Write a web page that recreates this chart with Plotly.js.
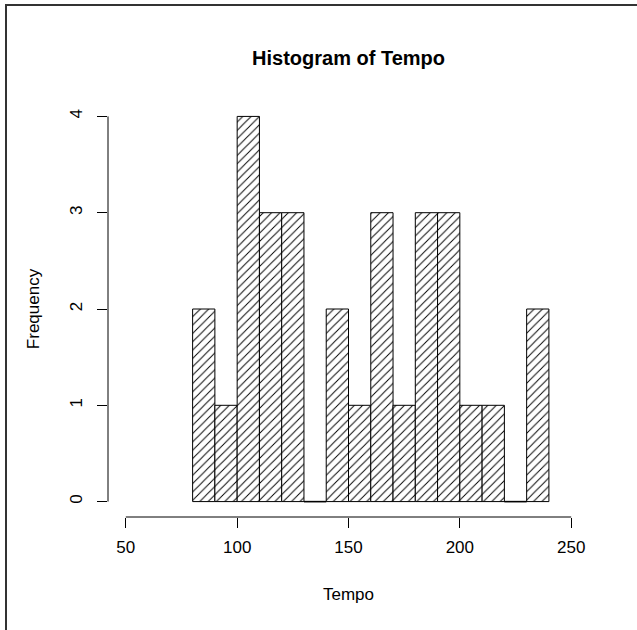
<!DOCTYPE html>
<html>
<head>
<meta charset="utf-8">
<script src="https://cdn.plot.ly/plotly-3.0.1.min.js"></script>
<style>
  html, body { margin: 0; padding: 0; background: #fff; }
  #wrap { position: relative; width: 637px; height: 630px; }
  #chart { width: 637px; height: 630px; }
  #frame { position: absolute; left: 5px; top: 4px; width: 640px; height: 640px;
           border-left: 2px solid #333; border-top: 2px solid #333; pointer-events: none; }
</style>
</head>
<body>
<div id="wrap">
  <div id="chart"></div>
  <div id="frame"></div>
</div>
<script>
// Histogram bin edges and counts
const breaks = [80, 90, 100, 110, 120, 130, 140, 150, 160, 170, 180, 190, 200, 210, 220, 230, 240];
const counts = [2, 1, 4, 3, 3, 0, 2, 1, 3, 1, 3, 3, 1, 1, 0, 2];
const xTicks = [50, 100, 150, 200, 250];
const yTicks = [0, 1, 2, 3, 4];
const titleText = "Histogram of Tempo";
const xLabel = "Tempo";
const yLabel = "Frequency";

const centers = counts.map((c, i) => (breaks[i] + breaks[i + 1]) / 2);
const widths = counts.map((c, i) => breaks[i + 1] - breaks[i]);

// zero-count bins are drawn by R as a flat line at 0
const zx = [], zy = [];
counts.forEach((c, i) => {
  if (c === 0) { zx.push(breaks[i], breaks[i + 1], null); zy.push(0, 0, null); }
});

const font = "Liberation Sans, Arial, sans-serif";

const traces = [
  {
    type: "bar",
    x: centers,
    y: counts,
    width: widths,
    marker: {
      color: "white",
      line: { color: "black", width: 1 },
      pattern: { shape: "/", fgcolor: "black", bgcolor: "white", size: 5.9, solidity: 0.16 }
    },
    hoverinfo: "x+y"
  },
  {
    type: "scatter",
    mode: "lines",
    x: zx,
    y: zy,
    line: { color: "black", width: 1.5 },
    hoverinfo: "skip",
    connectgaps: false
  }
];

const layout = {
  width: 637,
  height: 630,
  paper_bgcolor: "white",
  plot_bgcolor: "white",
  showlegend: false,
  margin: { l: 108, r: 48, t: 101, b: 113, pad: 0 },
  font: { family: font, size: 17, color: "black" },
  title: {
    text: "<b>" + titleText + "</b>",
    font: { family: font, size: 20, color: "black" },
    x: 0.5, xref: "paper", xanchor: "center",
    y: 1 - 58 / 630, yref: "container", yanchor: "middle"
  },
  bargap: 0,
  xaxis: {
    range: [42, 258],
    tickmode: "array",
    tickvals: xTicks,
    ticktext: xTicks.map(String),
    ticks: "outside", ticklen: 10, tickwidth: 1, tickcolor: "black",
    showline: false, showgrid: false, zeroline: false,
    tickfont: { family: font, size: 17, color: "black" },
    ticklabelstandoff: 5,
    title: { text: xLabel, font: { family: font, size: 17, color: "black" }, standoff: 31 },
    fixedrange: true
  },
  yaxis: {
    range: [-0.16, 4.16],
    tickmode: "array",
    tickvals: yTicks,
    ticktext: yTicks.map(String),
    tickangle: -90,
    ticks: "outside", ticklen: 10, tickwidth: 1, tickcolor: "black",
    showline: false, showgrid: false, zeroline: false,
    tickfont: { family: font, size: 17, color: "black" },
    ticklabelstandoff: 8,
    title: { text: yLabel, font: { family: font, size: 17, color: "black" }, standoff: 23 },
    fixedrange: true
  },
  shapes: [
    { type: "line", xref: "x", yref: "paper", x0: xTicks[0], x1: xTicks[xTicks.length - 1], y0: 0, y1: 0,
      line: { color: "black", width: 1 } },
    { type: "line", xref: "paper", yref: "y", x0: 0, x1: 0, y0: yTicks[0], y1: yTicks[yTicks.length - 1],
      line: { color: "black", width: 1 } }
  ]
};

Plotly.newPlot("chart", traces, layout, { displayModeBar: false, staticPlot: true });
</script>
</body>
</html>
